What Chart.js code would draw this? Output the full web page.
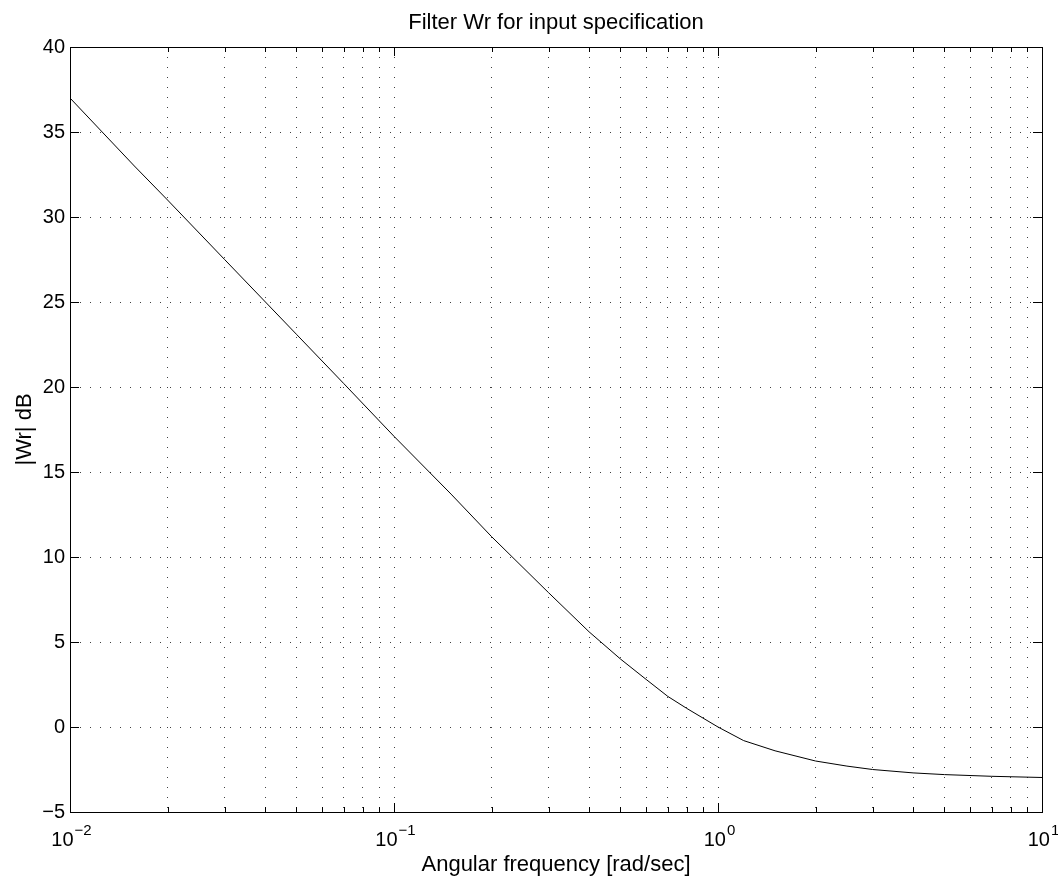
<!DOCTYPE html>
<html>
<head>
<meta charset="utf-8">
<script src="https://cdn.jsdelivr.net/npm/chart.js@4.4.1/dist/chart.umd.min.js"></script>
<style>
  html, body { margin: 0; padding: 0; background: #fff; }
  #wrap { width: 1058px; height: 877px; }
</style>
</head>
<body>
<div id="wrap"><canvas id="c" width="1058" height="877"></canvas></div>
<script>
// ---- data ----
const chartTitle = "Filter Wr for input specification";
const xAxisTitle = "Angular frequency [rad/sec]";
const yAxisTitle = "|Wr| dB";

const freq = [0.01, 0.0158, 0.02, 0.03, 0.05, 0.07, 0.1, 0.15, 0.2, 0.3, 0.4, 0.5, 0.6, 0.7, 0.8, 1.0, 1.2, 1.5, 2.0, 2.5, 3.0, 4.0, 5.0, 7.0, 10.0];
const magDb = [37.0, 33.0, 31.0, 27.5, 23.1, 20.2, 17.1, 13.7, 11.2, 7.9, 5.6, 4.0, 2.8, 1.8, 1.1, 0.0, -0.8, -1.4, -2.0, -2.3, -2.5, -2.7, -2.8, -2.9, -2.97];

const yTickValues = [-5, 0, 5, 10, 15, 20, 25, 30, 35, 40];
const xDecades = [-2, -1, 0, 1];            // tick labels 10^-2 ... 10^1
const xMinorMultiples = [2, 3, 4, 5, 6, 7, 8, 9];

// ---- derived tick positions ----
const xMajorValues = xDecades.map(e => Math.pow(10, e));
const xMinorValues = [];
for (let i = 0; i < xDecades.length - 1; i++) {
  for (const m of xMinorMultiples) xMinorValues.push(m * Math.pow(10, xDecades[i]));
}
const xGridValues = xMajorValues.concat(xMinorValues).sort((a, b) => a - b);

const FONT = "'Liberation Sans', Arial, Helvetica, sans-serif";
const minus = s => String(s).replace('-', '\u2212');

const boxPlugin = {
  id: 'matlabBox',
  afterDraw(chart) {
    const ctx = chart.ctx;
    const { left, right, top, bottom } = chart.chartArea;
    const xs = chart.scales.x, ys = chart.scales.y;
    ctx.save();
    ctx.strokeStyle = '#000';
    ctx.lineWidth = 1;
    ctx.setLineDash([]);
    // box
    ctx.strokeRect(Math.round(left) + 0.5, Math.round(top) + 0.5,
                   Math.round(right) - Math.round(left), Math.round(bottom) - Math.round(top));
    // inward y ticks on both sides
    ctx.beginPath();
    for (const v of yTickValues) {
      const py = Math.round(ys.getPixelForValue(v)) + 0.5;
      ctx.moveTo(left, py); ctx.lineTo(left + 9, py);
      ctx.moveTo(right, py); ctx.lineTo(right - 9, py);
    }
    // inward x ticks top & bottom
    for (const v of xGridValues) {
      const px = Math.round(xs.getPixelForValue(v)) + 0.5;
      const len = xMajorValues.includes(v) ? 9 : 5;
      ctx.moveTo(px, bottom); ctx.lineTo(px, bottom - len);
      ctx.moveTo(px, top); ctx.lineTo(px, top + len);
    }
    ctx.stroke();

    // x tick labels: 10 with superscript exponent
    ctx.fillStyle = '#000';
    ctx.textBaseline = 'alphabetic';
    ctx.textAlign = 'left';
    for (const e of xDecades) {
      const px = xs.getPixelForValue(Math.pow(10, e));
      ctx.font = '20px ' + FONT;
      const wb = ctx.measureText('10').width;
      ctx.font = '15px ' + FONT;
      const ex = minus(e);
      const we = ctx.measureText(ex).width;
      const start = px - (wb + we) / 2 + 1;
      ctx.font = '20px ' + FONT;
      ctx.fillText('10', start, 846);
      ctx.font = '15px ' + FONT;
      ctx.fillText(ex, start + wb + 1, 835);
    }

    // titles
    ctx.font = '22px ' + FONT;
    ctx.textAlign = 'center';
    const cx = (left + right) / 2;
    ctx.fillText(chartTitle, cx, 29);
    ctx.fillText(xAxisTitle, cx, 871);
    ctx.save();
    ctx.translate(31, (top + bottom) / 2);
    ctx.rotate(-Math.PI / 2);
    ctx.fillText(yAxisTitle, 0, 0);
    ctx.restore();
    ctx.restore();
  }
};

new Chart(document.getElementById('c'), {
  type: 'line',
  data: {
    datasets: [{
      data: freq.map((f, i) => ({ x: f, y: magDb[i] })),
      borderColor: '#000',
      borderWidth: 1,
      pointRadius: 0,
      tension: 0,
      fill: false
    }]
  },
  plugins: [boxPlugin],
  options: {
    responsive: false,
    animation: false,
    devicePixelRatio: 1,
    layout: { padding: { left: 0, right: 16, top: 47, bottom: 0 } },
    plugins: { legend: { display: false }, title: { display: false }, tooltip: { enabled: false } },
    scales: {
      x: {
        type: 'logarithmic',
        min: 0.01, max: 10,
        afterBuildTicks: s => { s.ticks = xGridValues.map(v => ({ value: v })); },
        afterFit: s => { s.height = 65; },
        ticks: { display: false },
        grid: { color: 'rgba(0,0,0,0.75)', lineWidth: 1, drawTicks: false },
        border: { display: false, dash: [1, 9] }
      },
      y: {
        type: 'linear',
        min: -5, max: 40,
        afterBuildTicks: s => { s.ticks = yTickValues.map(v => ({ value: v })); },
        afterFit: s => { s.width = 70; },
        ticks: {
          color: '#000',
          font: { family: FONT, size: 20 },
          padding: 5,
          callback: v => minus(v)
        },
        grid: { color: 'rgba(0,0,0,0.75)', lineWidth: 1, drawTicks: false },
        border: { display: false, dash: [1, 9] }
      }
    }
  }
});
</script>
</body>
</html>
